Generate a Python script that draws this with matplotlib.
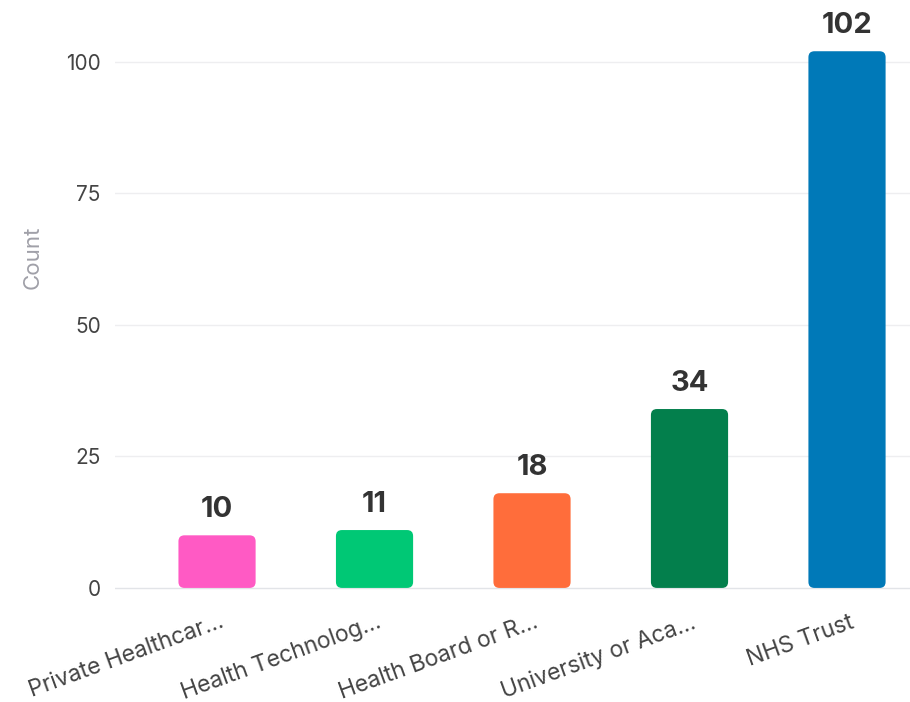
import matplotlib
matplotlib.use("Agg")
import matplotlib.pyplot as plt
from matplotlib.patches import FancyBboxPatch
import matplotlib.transforms as mtransforms

categories = ["Private Healthcar...", "Health Technolog...", "Health Board or R...",
              "University or Aca...", "NHS Trust"]
values = [10, 11, 18, 34, 102]
colors = ["#FF5AC4", "#00C875", "#FF6D3B", "#037F4C", "#0079B8"]
yticks = [0, 25, 50, 75, 100]

plt.rcParams['font.family'] = ['Inter', 'DejaVu Sans']

fig = plt.figure(figsize=(9.1, 7.02), dpi=100)
ax = fig.add_axes([0.126, 0.155, 0.874, 0.802])
xmin, xmax = -0.65, 4.4
ymin, ymax = -1, 106
ax.set_xlim(xmin, xmax)
ax.set_ylim(ymin, ymax)

ax_w_px = 0.874 * 910
ax_h_px = 0.802 * 702
x_per_px = (xmax - xmin) / ax_w_px
y_per_px = (ymax - ymin) / ax_h_px
aspect = y_per_px / x_per_px

for t in yticks:
    ax.axhline(t, color="#EEEEF0" if t else "#E2E4E8", lw=1, zorder=0)

w = 0.49
for i, (v, c) in enumerate(zip(values, colors)):
    p = FancyBboxPatch((i - w / 2, 0), w, v,
                       boxstyle="round,pad=0,rounding_size=%f" % (6 * x_per_px),
                       mutation_aspect=aspect, fc=c, ec="none", zorder=2)
    ax.add_patch(p)
    ax.text(i, v + 18 * y_per_px, str(v), ha="center", va="baseline", fontsize=21,
            fontweight="bold", color="#333333", clip_on=False)

ax.set_yticks(yticks)
ax.set_yticklabels([str(t) for t in yticks], fontsize=15, color="#444444")
ax.set_xticks(range(len(categories)))
ax.set_xticklabels(categories, fontsize=16.5, color="#444444", rotation=20,
                   ha="right", rotation_mode="anchor")
ax.tick_params(axis="both", length=0)
ax.tick_params(axis="y", pad=10)
ax.tick_params(axis="x", pad=13)
ax.set_ylabel("Count", fontsize=16, color="#A0A0A8", va="center")
ax.yaxis.set_label_coords(-0.103, 0.597)
for s in ax.spines.values():
    s.set_visible(False)

offset = mtransforms.ScaledTranslation(2 / 100, 0, fig.dpi_scale_trans)
for lab in ax.get_xticklabels():
    lab.set_transform(lab.get_transform() + offset)

fig.savefig("out.png", dpi=100, facecolor="white")
